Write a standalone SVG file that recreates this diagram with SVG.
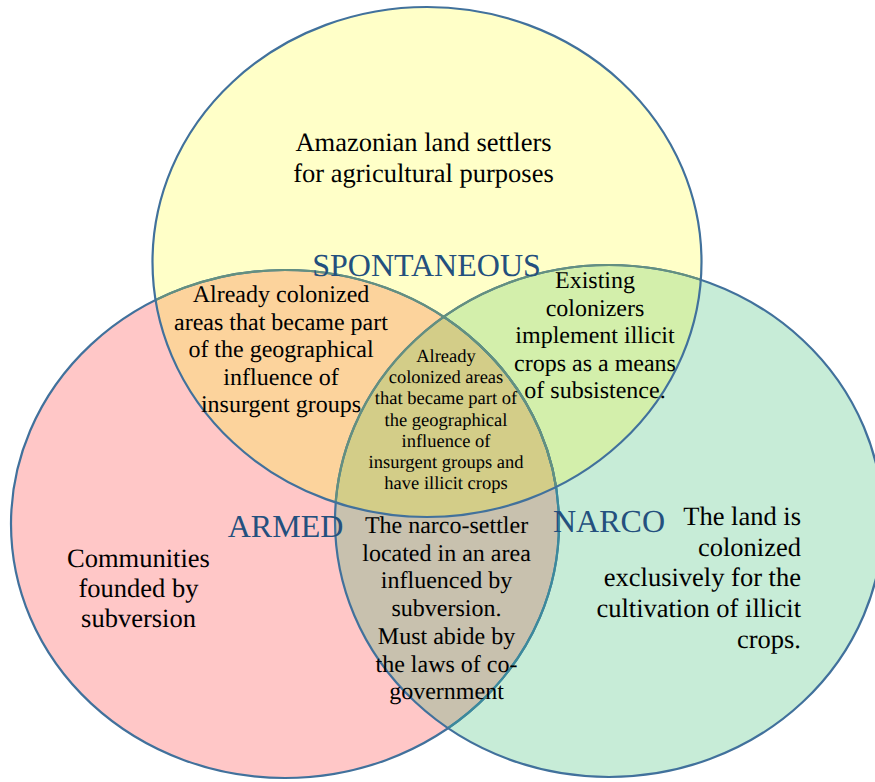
<svg xmlns="http://www.w3.org/2000/svg" width="875" height="782" viewBox="0 0 875 782">
<style>
text{text-rendering:geometricPrecision}
.big{font-family:"Liberation Serif","Times New Roman",serif;font-size:26.5px;fill:#000;text-anchor:middle}
.mid{font-family:"Liberation Serif","Times New Roman",serif;font-size:24px;fill:#000;text-anchor:middle}
.sm{font-family:"Liberation Serif","Times New Roman",serif;font-size:18.5px;fill:#000;text-anchor:middle}
.end{text-anchor:end}
.lbl{font-family:"Liberation Serif","Times New Roman",serif;font-size:32px;fill:#24507E;text-anchor:middle}
.ol{fill:none;stroke:#41719C;stroke-width:2.2}
</style>
<defs>
<ellipse id="eT" cx="427" cy="262" rx="274.5" ry="255"/>
<ellipse id="eL" cx="285" cy="524" rx="274" ry="254"/>
<ellipse id="eR" cx="609" cy="521" rx="274" ry="256"/>
<clipPath id="cT"><use href="#eT"/></clipPath>
<clipPath id="cL"><use href="#eL"/></clipPath>
<clipPath id="cR"><use href="#eR"/></clipPath>
</defs>
<rect width="875" height="782" fill="#fff"/>
<g id="fills">
<use href="#eL" fill="#FFC7C7"/>
<use href="#eR" fill="#C7ECD7"/>
<use href="#eT" fill="#FFFFC8"/>
<use href="#eR" fill="#C8C1AE" clip-path="url(#cL)"/>
<use href="#eT" fill="#FCD39C" clip-path="url(#cL)"/>
<use href="#eT" fill="#D3EFAB" clip-path="url(#cR)"/>
<g clip-path="url(#cL)"><use href="#eT" fill="#D3CD88" clip-path="url(#cR)"/></g>
</g>
<g id="outlines">
<use href="#eL" class="ol"/>
<use href="#eL" class="ol" style="stroke:#3B8A9C" clip-path="url(#cR)"/>
<use href="#eR" class="ol"/>
<g clip-path="url(#cT)">
<use href="#eL" class="ol" style="stroke:#64907F"/>
<use href="#eR" class="ol" style="stroke:#64907F"/>
</g>
<use href="#eT" class="ol"/>
</g>
<g id="spontaneous">
<text class="lbl" x="426.5" y="276">SPONTANEOUS</text>
<text class="big" x="423.5" y="151">Amazonian land settlers</text>
<text class="big" x="423.5" y="182">for agricultural purposes</text>
</g>
<g id="armed">
<text class="lbl" x="285.5" y="537">ARMED</text>
<text class="big" x="138.5" y="567">Communities</text>
<text class="big" x="138.5" y="597">founded by</text>
<text class="big" x="138.5" y="627">subversion</text>
</g>
<g id="narco">
<text class="lbl" x="609" y="532">NARCO</text>
<text class="big end" x="801" y="525">The land is</text>
<text class="big end" x="801" y="555.7">colonized</text>
<text class="big end" x="801" y="586.4">exclusively for the</text>
<text class="big end" x="801" y="617.1">cultivation of illicit</text>
<text class="big end" x="801" y="647.8">crops.</text>
</g>
<g id="spontaneous-armed">
<text class="mid" x="281" y="302">Already colonized</text>
<text class="mid" x="281" y="329.5">areas that became part</text>
<text class="mid" x="281" y="357">of the geographical</text>
<text class="mid" x="281" y="384.5">influence of</text>
<text class="mid" x="281" y="412">insurgent groups</text>
</g>
<g id="spontaneous-narco">
<text class="mid" x="595" y="288">Existing</text>
<text class="mid" x="595" y="315.5">colonizers</text>
<text class="mid" x="595" y="343">implement illicit</text>
<text class="mid" x="595" y="370.5">crops as a means</text>
<text class="mid" x="595" y="398">of subsistence.</text>
</g>
<g id="all-three">
<text class="sm" x="446" y="362">Already</text>
<text class="sm" x="446" y="383.2">colonized areas</text>
<text class="sm" x="446" y="404.4">that became part of</text>
<text class="sm" x="446" y="425.6">the geographical</text>
<text class="sm" x="446" y="446.8">influence of</text>
<text class="sm" x="446" y="468">insurgent groups and</text>
<text class="sm" x="446" y="489.2">have illicit crops</text>
</g>
<g id="armed-narco">
<text class="mid" x="446.5" y="533">The narco-settler</text>
<text class="mid" x="446.5" y="560.7">located in an area</text>
<text class="mid" x="446.5" y="588.4">influenced by</text>
<text class="mid" x="446.5" y="616.1">subversion.</text>
<text class="mid" x="446.5" y="643.8">Must abide by</text>
<text class="mid" x="446.5" y="671.5">the laws of co-</text>
<text class="mid" x="446.5" y="699.2">government</text>
</g>
</svg>
